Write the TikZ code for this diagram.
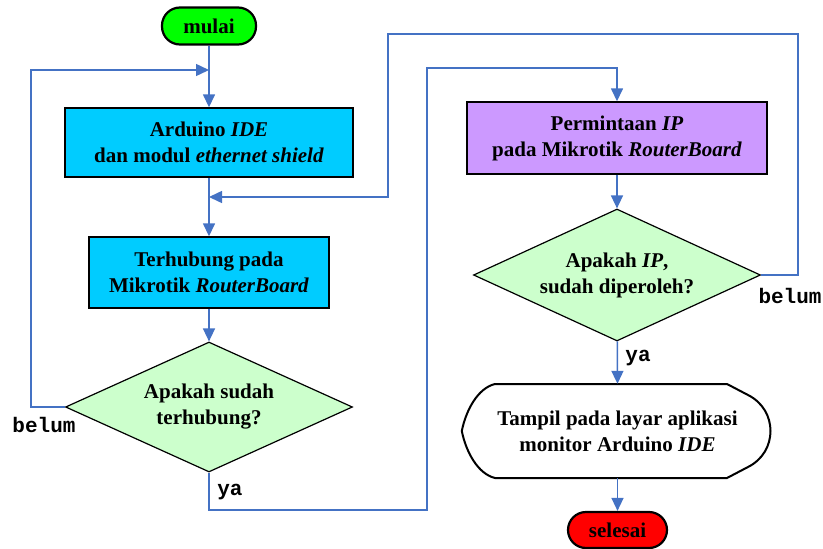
\documentclass[tikz,border=0pt]{standalone}
\usepackage{fontspec}
\setmainfont{Liberation Serif}
\setmonofont{Liberation Mono}
\usetikzlibrary{shapes.geometric,arrows.meta}
\definecolor{cyanbox}{HTML}{00CCFF}
\definecolor{purplebox}{HTML}{CC99FF}
\definecolor{greendia}{HTML}{CCFFCC}
\definecolor{startgreen}{HTML}{00FF00}
\definecolor{endred}{HTML}{FF0000}
\definecolor{conn}{HTML}{4472C4}
\tikzset{
  txt/.style={font=\fontsize{21}{26}\selectfont\bfseries, align=center},
  terminal/.style={txt, draw=black, line width=2.2pt, rounded corners=18pt, inner sep=0pt},
  procbox/.style={txt, draw=black, line width=1.4pt, inner sep=0pt},
  decision/.style={txt, diamond, draw=black, line width=1.2pt, fill=greendia, aspect=2.2, inner sep=0pt},
  flow/.style={draw=conn, line width=1.5pt, -{Triangle[length=13pt,width=12pt]}},
  lab/.style={font=\fontsize{21}{21}\selectfont\ttfamily\bfseries, inner sep=0pt}
}
\begin{document}
\begin{tikzpicture}[x=1pt,y=-1pt]
\useasboundingbox (0,0) rectangle (823,549);
% nodes
\node[terminal, fill=startgreen, minimum width=94pt, minimum height=37pt] (mulai) at (209,26) {mulai};
\node[procbox, fill=cyanbox, minimum width=288pt, minimum height=69pt] (b1) at (209,142.5) {Arduino \textit{IDE}\\dan modul \textit{ethernet shield}};
\node[procbox, fill=cyanbox, minimum width=240pt, minimum height=71pt] (b2) at (209,272.5) {Terhubung pada\\Mikrotik \textit{RouterBoard}};
\node[decision, minimum width=287pt, minimum height=130pt] (d1) at (209,407) {Apakah sudah\\terhubung?};
\node[procbox, fill=purplebox, minimum width=300pt, minimum height=72pt] (b3) at (617,138) {Permintaan \textit{IP}\\pada Mikrotik \textit{RouterBoard}};
\node[decision, minimum width=287pt, minimum height=132pt] (d2) at (617,275) {Apakah \textit{IP},\\sudah diperoleh?};
\node[minimum width=311pt, minimum height=94pt, inner sep=0pt] (disp) at (617.5,431) {};
\draw[black, line width=2pt, fill=white]
  (disp.west) .. controls (466,410) and (478,388) .. (495,384)
  -- (727,384) -- (748,395) .. controls (778,410) and (778,452) .. (748,467)
  -- (727,478) -- (495,478) .. controls (478,474) and (466,452) .. (disp.west) -- cycle;
\node[txt] (disptext) at (disp) {Tampil pada layar aplikasi\\monitor Arduino \textit{IDE}};
\node[terminal, fill=endred, minimum width=99pt, minimum height=36pt] (selesai) at (617.5,530) {selesai};
% junction coordinates
\coordinate (j1) at (209,70);
\coordinate (j2) at (209,197);
% connectors
\draw[flow] (mulai) -- (b1);
\draw[flow] (b1) -- (b2);
\draw[flow] (b2) -- (d1);
\draw[flow] (d1.west) -- (31,407) -- (31,70) -- (j1);
\draw[flow] (d1.south) -- (209,510) -- (427,510) -- (427,68) -- (617,68) -- (b3.north);
\draw[flow] (b3) -- (d2);
\draw[flow] (d2.east) -- (798,275) -- (798,34) -- (388,34) -- (388,197) -- (j2);
\draw[flow] (d2) -- (disp.north);
\draw[flow] (disp.south) -- (selesai);
% labels
\node[lab] (l1) at (44,425) {belum};
\node[lab] (l2) at (230,492) {ya};
\node[lab] (l3) at (790,296) {belum};
\node[lab] (l4) at (638,358) {ya};
\end{tikzpicture}
\end{document}
